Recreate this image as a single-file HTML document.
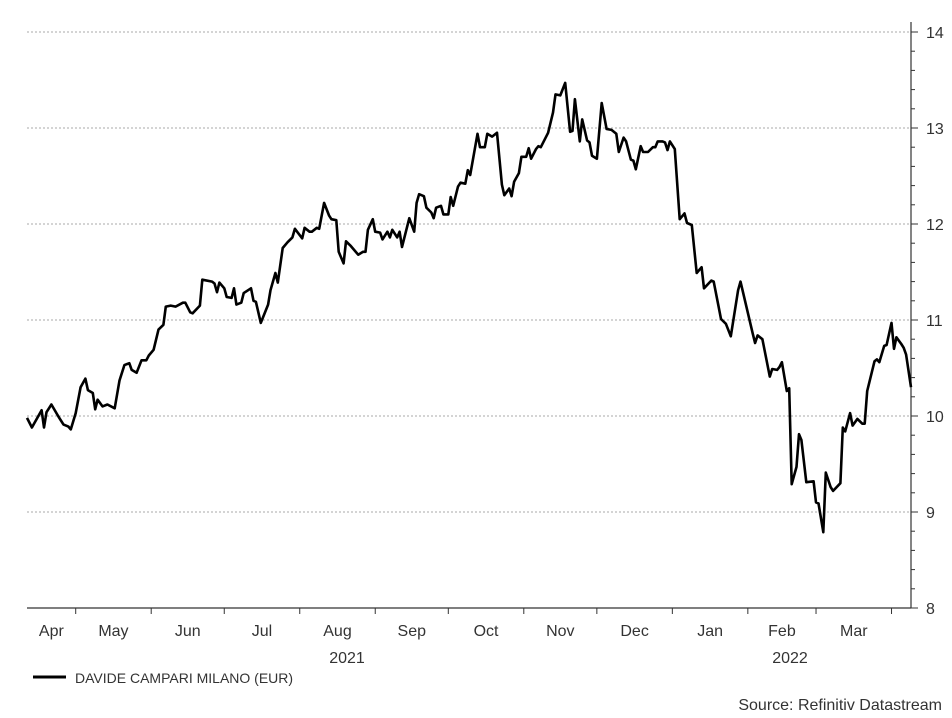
<!DOCTYPE html>
<html><head><meta charset="utf-8"><style>
body{margin:0;background:#fff}
svg text{font-family:"Liberation Sans",Arial,sans-serif;fill:#333}
</style></head><body>
<svg id="chart" width="952" height="713" xmlns="http://www.w3.org/2000/svg">
<g id="grid"></g>
<g id="axes"></g>
<path id="line" fill="none" stroke="#000" stroke-width="2.6" stroke-linejoin="round"></path>
<text x="347" y="663" font-size="16" text-anchor="middle">2021</text>
<text x="790" y="663" font-size="16" text-anchor="middle">2022</text>
<line x1="33" y1="677" x2="66" y2="677" stroke="#000" stroke-width="3"/>
<text x="75" y="683" font-size="14">DAVIDE CAMPARI MILANO (EUR)</text>
<text x="942" y="710" font-size="16" text-anchor="end">Source: Refinitiv Datastream</text>
</svg>
<script>
const days=[0,2,6,7,8,10,13,15,17,18,20,22,24,25,27,28,29,31,33,36,38,40,42,43,45,47,49,50,52,54,56,57,59,61,64,65,67,68,71,72,76,77,78,79,81,82,84,85,86,88,89,92,93,94,96,99,100,102,103,105,107,109,110,113,114,116,117,119,120,122,124,125,127,128,130,131,133,136,138,139,140,142,143,145,146,148,149,150,152,153,154,157,159,160,161,163,164,166,167,168,170,171,173,174,175,177,178,180,181,182,185,186,188,189,191,193,195,196,198,199,200,202,203,205,206,207,209,210,211,214,216,217,219,221,223,224,225,227,228,230,231,232,234,236,238,240,242,243,245,246,248,249,250,252,253,255,257,258,259,261,262,263,264,266,268,270,271,273,275,277,278,281,282,284,285,287,289,292,293,298,299,300,302,305,306,308,309,310,312,313,314,316,317,318,320,323,324,325,327,328,330,331,334,335,336,338,339,341,343,344,345,348,349,350,352,353,355,356,357,359,360,361,363];
const prices=[9.98,9.88,10.06,9.88,10.04,10.12,9.99,9.91,9.89,9.86,10.03,10.30,10.39,10.27,10.24,10.07,10.17,10.10,10.12,10.08,10.37,10.53,10.55,10.48,10.45,10.58,10.58,10.63,10.69,10.90,10.95,11.14,11.15,11.14,11.18,11.18,11.08,11.07,11.15,11.42,11.40,11.38,11.29,11.39,11.33,11.24,11.23,11.33,11.16,11.18,11.28,11.33,11.20,11.19,10.97,11.16,11.31,11.49,11.39,11.75,11.81,11.86,11.95,11.85,11.96,11.92,11.92,11.96,11.95,12.22,12.09,12.05,12.04,11.71,11.59,11.82,11.77,11.68,11.71,11.71,11.94,12.05,11.92,11.91,11.84,11.92,11.86,11.94,11.86,11.92,11.76,12.06,11.92,12.22,12.31,12.29,12.17,12.12,12.06,12.17,12.19,12.10,12.10,12.28,12.19,12.39,12.43,12.42,12.56,12.51,12.94,12.80,12.80,12.94,12.91,12.95,12.41,12.30,12.37,12.29,12.44,12.53,12.70,12.70,12.79,12.68,12.78,12.81,12.80,12.95,13.16,13.35,13.34,13.47,12.96,12.97,13.30,12.86,13.09,12.87,12.85,12.71,12.68,13.26,12.99,12.98,12.94,12.75,12.90,12.86,12.67,12.66,12.57,12.81,12.75,12.75,12.80,12.80,12.86,12.86,12.85,12.77,12.86,12.78,12.05,12.11,12.01,11.99,11.49,11.55,11.33,11.41,11.40,11.14,11.01,10.96,10.83,11.31,11.40,10.86,10.76,10.84,10.80,10.41,10.49,10.48,10.51,10.56,10.26,10.29,9.29,9.47,9.81,9.75,9.31,9.32,9.10,9.09,8.79,9.41,9.26,9.22,9.30,9.88,9.84,10.03,9.90,9.97,9.92,9.92,10.26,10.57,10.59,10.56,10.73,10.74,10.97,10.70,10.82,10.75,10.71,10.64,10.30];
const yTicks=[8,9,10,11,12,13,14];
const monthTicks=[20,51,81,112,143,173,204,234,265,296,324,355];
const monthLabels=["Apr","May","Jun","Jul","Aug","Sep","Oct","Nov","Dec","Jan","Feb","Mar"];
const X0=27,X1=911,Y0=608,Y1=32,DMAX=363,VMIN=8,VMAX=14;
const xs=d=>X0+d/DMAX*(X1-X0);
const ys=v=>Y0-(v-VMIN)/(VMAX-VMIN)*(Y0-Y1);
const NS="http://www.w3.org/2000/svg";
function mk(tag,attrs,parent){const e=document.createElementNS(NS,tag);for(const k in attrs)e.setAttribute(k,attrs[k]);parent.appendChild(e);return e;}
const grid=document.getElementById('grid'),axes=document.getElementById('axes');
yTicks.forEach(v=>{
  if(v>VMIN){const g=mk('line',{x1:X0,x2:X1,y1:ys(v),y2:ys(v),stroke:'#aaa','stroke-dasharray':'2,2','stroke-width':1},grid);
  
  }
  const t=mk('line',{x1:X1,x2:X1+7,y1:ys(v),y2:ys(v),stroke:'#333'},axes);
  
  
  const l=mk('text',{x:X1+15,y:ys(v)+6,'font-size':16},axes);l.textContent=v;
  
  
});
for(let v=VMIN;v<VMAX;v+=0.2){const m=mk('line',{x1:X1,x2:X1+4,y1:ys(v),y2:ys(v),stroke:'#333'},axes);
  
  }
const ya=mk('line',{x1:X1,x2:X1,y1:22,y2:Y0,stroke:'#333','stroke-width':1.2},axes);


const xa=mk('line',{x1:X0,x2:X1,y1:Y0,y2:Y0,stroke:'#333','stroke-width':1.2},axes);


const bounds=[0].concat(monthTicks).concat([DMAX]);
monthTicks.forEach(d=>{const t=mk('line',{x1:xs(d),x2:xs(d),y1:Y0,y2:Y0+6,stroke:'#333'},axes);
  
  });
monthLabels.forEach((m,i)=>{const cx=(xs(bounds[i])+xs(bounds[i+1]))/2;
  const l=mk('text',{x:cx,y:636,'font-size':16,'text-anchor':'middle'},axes);l.textContent=m;
  
  });
document.getElementById('line').setAttribute('d',days.map((d,i)=>(i?'L':'M')+xs(d).toFixed(1)+','+ys(prices[i]).toFixed(1)).join(''));
</script>
</body></html>
